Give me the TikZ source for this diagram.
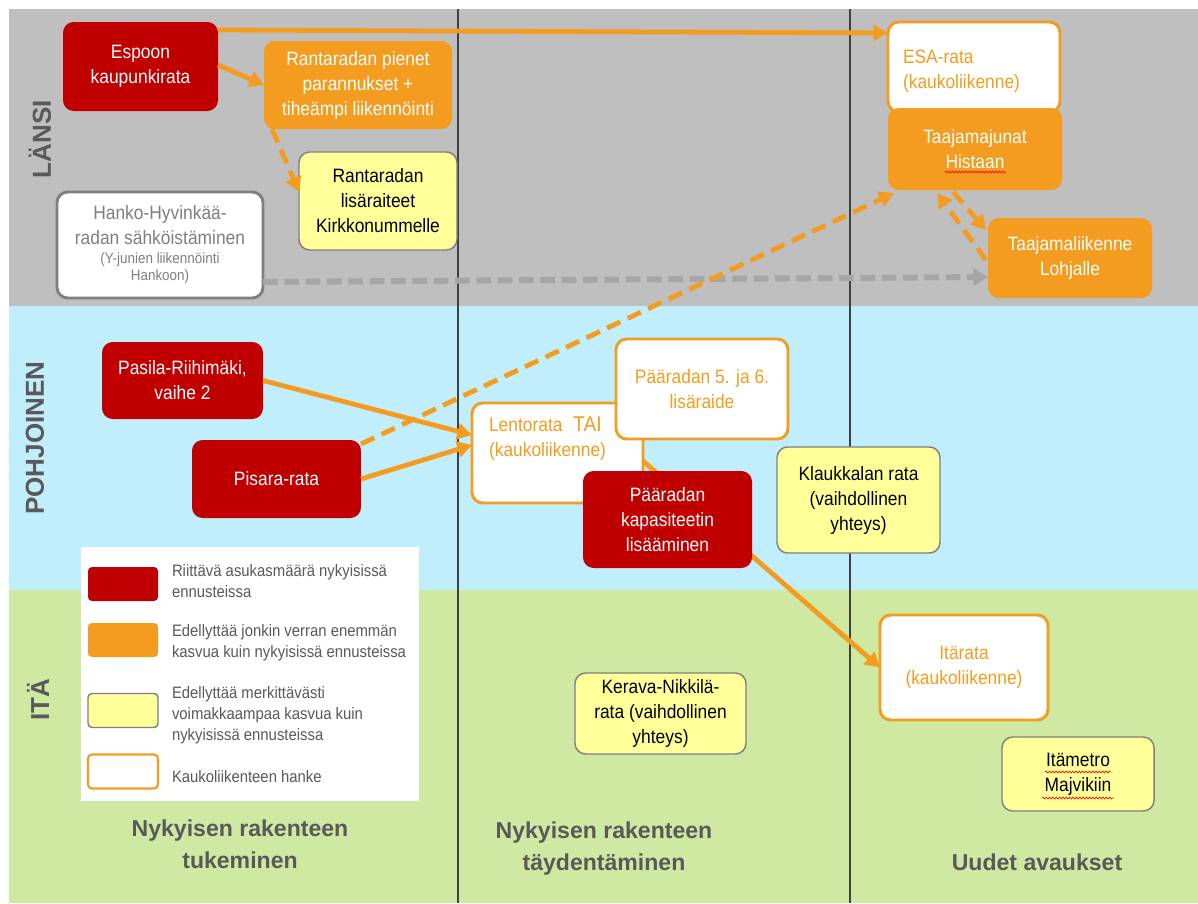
\documentclass[tikz,border=0pt]{standalone}
\usepackage{fontspec}
\setmainfont{Liberation Sans}[FakeStretch=0.9]
\newfontfamily\widefont{Liberation Sans}
\usetikzlibrary{arrows.meta,calc,decorations.pathmorphing}
\definecolor{cRed}{HTML}{C00000}
\definecolor{cOrange}{HTML}{F39C1F}
\definecolor{cYellow}{HTML}{FFFF99}
\definecolor{cGrayBand}{HTML}{BFBFBF}
\definecolor{cBlue}{HTML}{C1EEFC}
\definecolor{cGreen}{HTML}{CFE9A3}
\definecolor{cText}{HTML}{595959}
\definecolor{cBorder}{HTML}{7F7F7F}
\definecolor{cDash}{HTML}{A6A6A6}
\definecolor{cLine}{HTML}{404040}
\begin{document}
\begin{tikzpicture}[x=0.75pt,y=-0.75pt,
  every node/.style={inner sep=0pt, outer sep=0pt},
  sz/.style 2 args={minimum width=#1*0.75pt, minimum height=#2*0.75pt},
  box/.style={rounded corners=8pt, align=center, font=\fontsize{14.5}{18.75}\selectfont},
  redbox/.style={box, fill=cRed, text=white},
  orbox/.style={box, fill=cOrange, text=white},
  yelbox/.style={box, fill=cYellow, draw=cBorder, line width=1.1pt, text=black},
  farbox/.style={box, fill=white, draw=cOrange, line width=2.2pt, text=cOrange},
  hankobox/.style={box, fill=white, draw=cBorder, line width=2.2pt, text=cBorder},
  region/.style={rotate=90, text=cText, font=\widefont\bfseries\fontsize{19.5}{22}\selectfont},
  coltitle/.style={align=center, text=cText, font=\widefont\bfseries\fontsize{17.3}{24}\selectfont},
  legtext/.style={anchor=west, align=left, text=cText, font=\fontsize{12.4}{15.75}\selectfont},
  swatch/.style={rounded corners=3pt, sz={70}{34}},
  arr/.style={draw=cOrange, line width=3.6pt, -{Triangle[length=11pt,width=12pt]}},
  darr/.style={arr, dash pattern=on 11pt off 6pt},
  garr/.style={draw=cDash, line width=4.5pt, dash pattern=on 11pt off 5pt, -{Triangle[length=11pt,width=13pt]}},
  wavy/.style={draw=red, line width=0.5pt, decorate, decoration={snake, amplitude=0.7pt, segment length=2.5pt}}
]
\useasboundingbox (0,0) rectangle (1198,903);
\fill[white] (0,0) rectangle (1198,903);
% bands
\fill[cGrayBand] (9,9) rectangle (1198,306);
\fill[cBlue] (9,306) rectangle (1198,590);
\fill[cGreen] (9,590) rectangle (1198,903);
\draw[cLine, line width=1.2pt] (458,9) -- (458,903);
\draw[cLine, line width=1.2pt] (850,9) -- (850,903);

% region labels
\node[region] (lansi) at (40,139) {LÄNSI};
\node[region] (pohjoinen) at (35,438) {POHJOINEN};
\node[region] (ita) at (38,700) {ITÄ};

% column titles
\node[coltitle] (col1) at (240,844) {Nykyisen rakenteen\\tukeminen};
\node[coltitle] (col2) at (604,849) {Nykyisen rakenteen\\täydentäminen};
\node[coltitle] (col3) at (1037,862) {Uudet avaukset};

% legend
\node[fill=white, sz={338}{254}] (legend) at (250,674) {};
\node[swatch, fill=cRed] (legR) at (123,584) {};
\node[swatch, fill=cOrange] (legO) at (123,640) {};
\node[swatch, fill=cYellow, draw=cBorder, line width=1.1pt] (legY) at (123,710.5) {};
\node[swatch, fill=white, draw=cOrange, line width=1.6pt] (legW) at (123,771.5) {};
\node[legtext] (tR) at (172,581.5) {Riittävä asukasmäärä nykyisissä\\ennusteissa};
\node[legtext] (tO) at (172,643) {Edellyttää jonkin verran enemmän\\kasvua kuin nykyisissä ennusteissa};
\node[legtext] (tY) at (172,715.5) {Edellyttää merkittävästi\\voimakkaampaa kasvua kuin\\nykyisissä ennusteissa};
\node[legtext] (tW) at (172,777) {Kaukoliikenteen hanke};

% LÄNSI boxes
\node[redbox, sz={155}{89}] (espoon) at (140.5,66.5) {Espoon\\kaupunkirata};
\node[orbox, sz={188}{88}] (pienet) at (358,85) {Rantaradan pienet\\parannukset +\\tiheämpi liikennöinti};
\node[yelbox, sz={158}{98}] (lisar) at (378,201) {Rantaradan\\lisäraiteet\\Kirkkonummelle};
\node[hankobox, sz={206}{106}] (hanko) at (160,245) {};
\node[align=center, text=cBorder, font=\fontsize{14.5}{18.75}\selectfont] (hankoA) at (160,225.5) {Hanko-Hyvinkää-\\radan sähköistäminen};
\node[align=center, text=cBorder, font=\fontsize{11.2}{13}\selectfont] (hankoB) at (160,268) {(Y-junien liikennöinti\\Hankoon)};
\node[farbox, sz={172}{90}] (esa) at (974,67) {};
\node[anchor=west, align=left, text=cOrange, font=\fontsize{14.5}{18.75}\selectfont] (esaT) at (903,71) {ESA-rata\\(kaukoliikenne)};
\node[orbox, sz={174}{82}] (taaj) at (975,149) {Taajamajunat\\Histaan};
\node[orbox, sz={164}{80}] (lohja) at (1070,258) {Taajamaliikenne\\Lohjalle};

% POHJOINEN boxes
\node[redbox, sz={161}{77}] (pasila) at (182.5,380.5) {Pasila-Riihimäki,\\vaihe 2};
\node[redbox, sz={169}{78}] (pisara) at (276.5,479) {Pisara-rata};
\node[farbox, sz={171}{100}] (lento) at (557.5,453) {};
\node[anchor=west, align=left, text=cOrange, font=\fontsize{14.5}{18.75}\selectfont] (lentoT) at (489,439) {Lentorata\hspace{8pt}{\fontsize{16}{18.75}\selectfont TAI}\\(kaukoliikenne)};
\node[farbox, sz={168}{105}] (itarata) at (964,667.5) {Itärata\\(kaukoliikenne)};

% connector hidden partly under the red box
\draw[arr] ($(lento.east)+(0,8)$) -- (itarata.west);

\node[farbox, sz={172}{100}] (lisa56) at (702,389) {Pääradan 5. ja 6.\\lisäraide};
\node[redbox, sz={169}{97}] (kapa) at (667.5,519.5) {Pääradan\\kapasiteetin\\lisääminen};
\node[yelbox, sz={163}{106}] (klauk) at (858.5,500) {Klaukkalan rata\\(vaihdollinen\\yhteys)};

% ITÄ boxes
\node[yelbox, sz={171}{81}] (kerava) at (660.5,713.5) {Kerava-Nikkilä-\\rata (vaihdollinen\\yhteys)};
\node[yelbox, sz={152}{74}] (itametro) at (1078,774) {Itämetro\\Majvikiin};

% spell-check underlines
\draw[wavy] (945,172) -- (1006,172);
\draw[wavy] (1045,772) -- (1111,772);
\draw[wavy] (1042,798) -- (1114,798);

% connectors
\draw[garr] (hanko.east |- 0,282) -- (lohja.west |- 0,277);
\draw[arr] (espoon.east |- 0,30) -- (esa.west |- 0,33);
\draw[arr] (espoon.east |- 0,65) -- (pienet.west);
\draw[darr] (pienet.south -| 272,0) -- (lisar.west |- 0,192);
\draw[darr] (pisara.east |- 0,444) -- ($(taaj.south west)+(6,3)$);
\draw[darr] ($(taaj.south)+(-22,2)$) -- ($(lohja.north west)+(-2,12)$);
\draw[darr] ($(lohja.west)+(-2,2)$) -- ($(taaj.south)+(-38,3)$);
\draw[arr] (pasila.east) -- ($(lento.west)+(0,-18)$);
\draw[arr] (pisara.east) -- ($(lento.west)+(0,-8)$);
\end{tikzpicture}
\end{document}
